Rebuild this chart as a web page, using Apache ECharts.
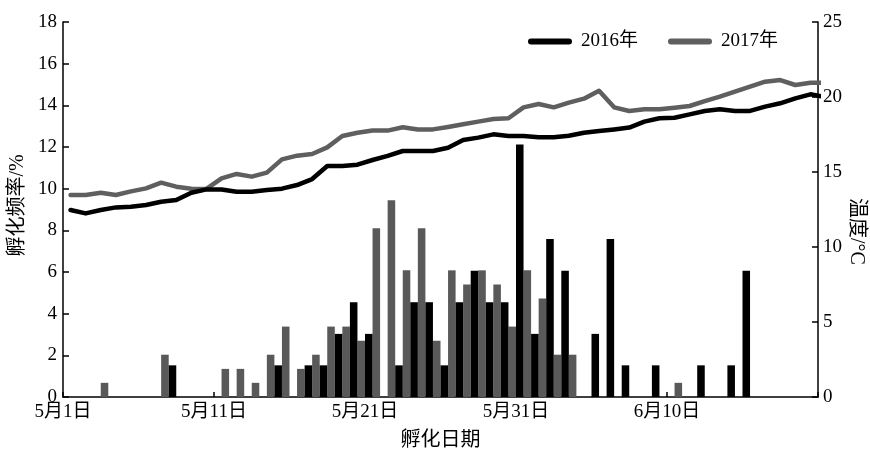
<!DOCTYPE html>
<html>
<head>
<meta charset="utf-8">
<script src="https://cdn.jsdelivr.net/npm/echarts@6/dist/echarts.min.js"></script>
<style>
  html, body { margin: 0; padding: 0; background: #fff; }
  #chart { width: 870px; height: 452px; }
</style>
</head>
<body>
<div id="chart"></div>
<script>
// Daily categories, May 1 – June 20
const days = [];
for (let d = 1; d <= 31; d++) days.push('5月' + d + '日');
for (let d = 1; d <= 20; d++) days.push('6月' + d + '日');

// Hatching frequency (%) per day
const hatch2016 = [0,0,0,0,0,0,0,1.52,0,0, 0,0,0,0,1.52,0,1.52,1.52,3.03,4.55,
  3.03,0,1.52,4.55,4.55,1.52,4.55,6.06,4.55,4.55, 12.12,3.03,7.58,6.06,0,3.03,7.58,1.52,0,1.52,
  0,0,1.52,0,1.52,6.06,0,0,0,0, 0];
const hatch2017 = [0,0,0,0.68,0,0,0,2.03,0,0, 0,1.35,1.35,0.68,2.03,3.38,1.35,2.03,3.38,3.38,
  2.70,8.10,9.45,6.08,8.10,2.70,6.08,5.40,6.08,5.40, 3.38,6.08,4.73,2.03,2.03,0,0,0,0,0,
  0,0.68,0,0,0,0,0,0,0,0, 0];

// Daily mean temperature (°C)
const temp2016 = [12.47,12.24,12.47,12.64,12.69,12.80,13.02,13.13,13.62,13.84,
  13.84,13.69,13.69,13.80,13.89,14.13,14.53,15.40,15.40,15.49,
  15.80,16.07,16.40,16.40,16.40,16.62,17.13,17.29,17.51,17.40,
  17.40,17.31,17.31,17.42,17.62,17.73,17.84,17.96,18.36,18.58,
  18.62,18.84,19.07,19.18,19.07,19.07,19.36,19.58,19.91,20.18,20.00];
const temp2017 = [13.47,13.47,13.62,13.47,13.71,13.91,14.29,14.02,13.89,13.87,
  14.58,14.87,14.69,14.96,15.84,16.09,16.20,16.64,17.40,17.62,
  17.76,17.76,17.98,17.84,17.84,18.00,18.18,18.36,18.53,18.58,
  19.31,19.53,19.31,19.62,19.89,20.42,19.31,19.07,19.18,19.18,
  19.29,19.40,19.73,20.02,20.36,20.69,21.02,21.13,20.80,20.95,20.95];

const FONT = "'Liberation Serif', 'Noto Sans CJK SC', serif";
const FS = 19;      // tick labels and legend
const NAME_FS = 20; // axis titles
// temperature points sit in the middle of each day
const lineFor = arr => arr.map((v, i) => [i + 0.5, v]);

const chart = echarts.init(document.getElementById('chart'), null, { renderer: 'canvas' });
chart.setOption({
  animation: false,
  textStyle: { fontFamily: FONT, color: '#000' },
  grid: { left: 63, right: 52, top: 22, bottom: 55, containLabel: false, outerBoundsMode: 'none' },
  legend: {
    data: ['2016年', '2017年'],
    left: 523, top: 27,
    itemWidth: 44, itemHeight: 6, itemGap: 30,
    icon: 'path://M3,0 L41,0 A3,3 0 0 1 41,6 L3,6 A3,3 0 0 1 3,0 Z',
    textStyle: { fontFamily: FONT, fontSize: FS, color: '#000', padding: [0, 0, 0, 4] }
  },
  xAxis: [
    {
      type: 'category',
      data: days,
      boundaryGap: false,
      name: '孵化日期',
      nameLocation: 'middle',
      nameGap: 34,
      nameMoveOverlap: false,
      nameTextStyle: { fontFamily: FONT, fontSize: NAME_FS, color: '#000' },
      axisLine: { lineStyle: { color: '#000', width: 1.5 } },
      axisTick: { inside: true, length: 5, interval: i => i % 10 === 0, lineStyle: { color: '#000', width: 1.5 } },
      axisLabel: { interval: i => i % 10 === 0 && i < 50, fontFamily: FONT, fontSize: FS, color: '#000', margin: 6 },
      splitLine: { show: false }
    },
    {
      type: 'value', min: 0, max: 50, show: false,
      splitLine: { show: false }
    }
  ],
  yAxis: [
    {
      type: 'value', min: 0, max: 18, interval: 2,
      name: '孵化频率/%',
      nameLocation: 'middle',
      nameGap: 35,
      nameMoveOverlap: false,
      nameTextStyle: { fontFamily: FONT, fontSize: NAME_FS, color: '#000', padding: [0, 0, 0, 8] },
      axisLine: { show: true, lineStyle: { color: '#000', width: 1.5 } },
      axisTick: { show: true, inside: true, length: 6, lineStyle: { color: '#000', width: 1.5 } },
      axisLabel: { fontFamily: FONT, fontSize: FS, color: '#000', margin: 6 },
      splitLine: { show: false }
    },
    {
      type: 'value', min: 0, max: 25, interval: 5,
      name: '温度/°C',
      nameLocation: 'middle',
      nameGap: 28,
      nameRotate: -90,
      nameMoveOverlap: false,
      nameTextStyle: { fontFamily: FONT, fontSize: NAME_FS, color: '#000', padding: [0, 0, 0, 44] },
      axisLine: { show: true, lineStyle: { color: '#000', width: 1.5 } },
      axisTick: { show: true, inside: true, length: 6, lineStyle: { color: '#000', width: 1.5 } },
      axisLabel: { fontFamily: FONT, fontSize: FS, color: '#000', margin: 5 },
      splitLine: { show: false }
    }
  ],
  series: [
    {
      name: '2017年孵化', type: 'bar', xAxisIndex: 0, yAxisIndex: 0,
      data: hatch2017, barGap: '0%', barCategoryGap: '0%',
      itemStyle: { color: '#595959' }
    },
    {
      name: '2016年孵化', type: 'bar', xAxisIndex: 0, yAxisIndex: 0,
      data: hatch2016, barGap: '0%', barCategoryGap: '0%',
      itemStyle: { color: '#000' }
    },
    {
      name: '2016年', type: 'line', xAxisIndex: 1, yAxisIndex: 1,
      data: lineFor(temp2016), symbol: 'none', clip: true,
      lineStyle: { color: '#000', width: 4.5, cap: 'round', join: 'round' },
      itemStyle: { color: '#000' }, z: 5
    },
    {
      name: '2017年', type: 'line', xAxisIndex: 1, yAxisIndex: 1,
      data: lineFor(temp2017), symbol: 'none', clip: true,
      lineStyle: { color: '#5f5f5f', width: 4.5, cap: 'round', join: 'round' },
      itemStyle: { color: '#5f5f5f' }, z: 4
    }
  ]
});
</script>
</body>
</html>
